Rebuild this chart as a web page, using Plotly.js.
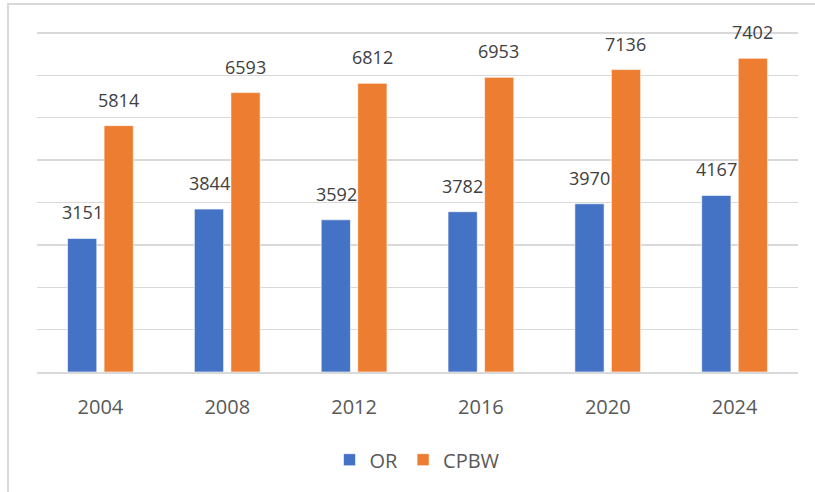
<!DOCTYPE html>
<html>
<head>
<meta charset="utf-8">
<script src="https://cdn.plot.ly/plotly-3.0.1.min.js"></script>
<style>
  html, body { margin: 0; padding: 0; background: #ffffff; overflow: hidden; }
  #wrap { position: relative; width: 815px; height: 492px; }
  #chart { width: 815px; height: 492px; }
  #frame { position: absolute; left: 7px; top: 3px; width: 900px; height: 600px;
           border: 2px solid #d9d9d9; pointer-events: none; box-sizing: border-box; }
</style>
</head>
<body>
<div id="wrap">
  <div id="chart"></div>
  <div id="frame"></div>
</div>
<script>
const years = ['2004', '2008', '2012', '2016', '2020', '2024'];
const orValues = [3151, 3844, 3592, 3782, 3970, 4167];
const cpbwValues = [5814, 6593, 6812, 6953, 7136, 7402];
const seriesNames = ['OR', 'CPBW'];
const seriesColors = ['#4472C4', '#ED7D31'];

const traces = [
  { type: 'bar', name: seriesNames[0], x: years, y: orValues,
    marker: { color: seriesColors[0], line: { color: '#ffffff', width: 0.6 } },
    hoverinfo: 'x+y' },
  { type: 'bar', name: seriesNames[1], x: years, y: cpbwValues,
    marker: { color: seriesColors[1], line: { color: '#ffffff', width: 0.6 } },
    hoverinfo: 'x+y' }
];

const annFont = { family: 'Open Sans, Noto Sans, sans-serif', size: 18, color: '#404040' };
const annotations = [];
years.forEach((yr, i) => {
  annotations.push({ x: i, y: orValues[i], xref: 'x', yref: 'y', text: String(orValues[i]),
    showarrow: false, xshift: -18, yshift: 12, yanchor: 'bottom', font: annFont });
  annotations.push({ x: i, y: cpbwValues[i], xref: 'x', yref: 'y', text: String(cpbwValues[i]),
    showarrow: false, xshift: 18, yshift: 12, yanchor: 'bottom', font: annFont });
});

const layout = {
  width: 815, height: 492,
  margin: { l: 37, r: 17, t: 31, b: 119.5, pad: 0 },
  paper_bgcolor: '#ffffff', plot_bgcolor: '#ffffff',
  barmode: 'group', bargap: 0.424, bargroupgap: 0.2,
  font: { family: 'Open Sans, Noto Sans, sans-serif', color: '#595959' },
  xaxis: {
    type: 'category', range: [-0.5, years.length - 0.5], autorange: false,
    showgrid: false, showline: true, linecolor: '#d9d9d9', linewidth: 1.5,
    ticks: '', tickfont: { size: 20, color: '#595959' }, ticklabelstandoff: 16, fixedrange: true
  },
  yaxis: {
    range: [0, 8047], autorange: false, tick0: 0, dtick: 1000, showgrid: true,
    gridcolor: '#d9d9d9', gridwidth: 1.5,
    zeroline: false, showticklabels: false, ticks: '', fixedrange: true
  },
  showlegend: true,
  legend: {
    orientation: 'h', x: 0.5, xanchor: 'center', y: -0.2, yanchor: 'top',
    font: { size: 20, color: '#595959' }, traceorder: 'normal', itemwidth: 30
  },
  annotations: annotations
};

Plotly.newPlot('chart', traces, layout, { displayModeBar: false, staticPlot: true });
</script>
</body>
</html>
